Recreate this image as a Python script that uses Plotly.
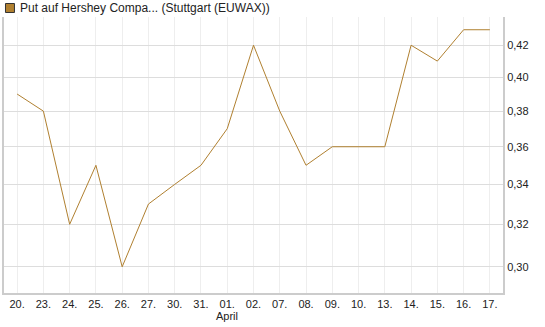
import math
import plotly.graph_objects as go

days = ["20.", "23.", "24.", "25.", "26.", "27.", "30.", "31.", "01.", "02.",
        "07.", "08.", "09.", "10.", "13.", "14.", "15.", "16.", "17."]
values = [0.39, 0.38, 0.32, 0.35, 0.30, 0.33, 0.34, 0.35, 0.37, 0.42,
          0.38, 0.35, 0.36, 0.36, 0.36, 0.42, 0.41, 0.43, 0.43]
y_ticks = [0.30, 0.32, 0.34, 0.36, 0.38, 0.40, 0.42]
month_label = "April"
month_at = "01."
legend_text = "Put auf Hershey Compa... (Stuttgart (EUWAX))"

idx = list(range(len(days)))
fig = go.Figure()
fig.add_trace(go.Scatter(x=idx, y=values, mode="lines",
                         line=dict(color="#B08030", width=1), showlegend=False,
                         hoverinfo="skip"))

font = dict(family="Liberation Sans, Arial, sans-serif", size=11, color="#222")
W, H = 545, 327
ml, mr, mt, mb = 2, 42, 17, 34
pw, ph = W - ml - mr, H - mt - mb


def px_x(x):
    return (x - ml) / pw


def px_y(y):
    return (H - mb - y) / ph


fig.update_layout(
    width=W, height=H,
    margin=dict(l=ml, r=mr, t=mt, b=mb),
    paper_bgcolor="white", plot_bgcolor="white",
    separators=",.",
    font=font,
    xaxis=dict(range=[-0.5, len(days) - 0.5], tickvals=idx, ticktext=days,
               showgrid=True, gridcolor="#eeeeee", gridwidth=1,
               showline=True, linecolor="#cccccc", linewidth=2,
               ticks="", zeroline=False, tickfont=font, fixedrange=True),
    yaxis=dict(type="log", side="right",
               range=[math.log10(0.2883), math.log10(0.4384)],
               tickvals=y_ticks, tickformat=".2f",
               showgrid=True, gridcolor="#dddddd", gridwidth=1,
               showline=True, linecolor="#cccccc", linewidth=2, mirror=True,
               ticks="", zeroline=False, tickfont=font, fixedrange=True),
)
fig.add_annotation(x=days.index(month_at), y=0, xref="x", yref="paper",
                   yshift=-15, yanchor="top", text=month_label, showarrow=False,
                   font=font)
# legend marker and text
fig.add_shape(type="rect", xref="paper", yref="paper",
              x0=px_x(3.5), x1=px_x(12.5), y0=px_y(12.5), y1=px_y(3.5),
              fillcolor="#B08030", line=dict(color="#333333", width=1))
fig.add_annotation(xref="paper", yref="paper", x=px_x(16), y=px_y(8),
                   xanchor="left", yanchor="middle", showarrow=False,
                   text=legend_text, font=dict(family=font["family"], size=12,
                                               color="#222"))
fig.write_html("out.html")
